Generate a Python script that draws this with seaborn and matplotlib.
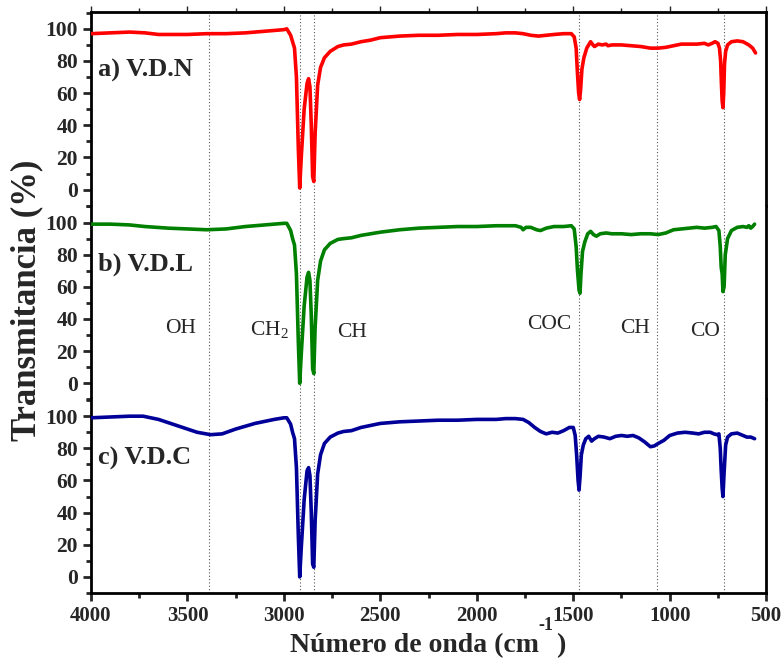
import matplotlib
matplotlib.use("Agg")
import matplotlib.pyplot as plt
from matplotlib.ticker import MultipleLocator
import seaborn as sns
import pandas as pd

# ---------------- data ----------------
vdn_points = [
    (4000, 97), (3900, 97.5), (3800, 98), (3720, 97.5), (3650, 96.5), (3500, 96.5),
    (3400, 97), (3300, 97), (3200, 97.5), (3100, 98.5), (3000, 99.5), (2985, 100),
    (2965, 96), (2955, 92), (2945, 88), (2935, 70), (2925, 25), (2918, 1), (2910, 20),
    (2895, 50), (2880, 66), (2872, 69), (2865, 64), (2858, 40), (2851, 8), (2845, 5),
    (2838, 35), (2825, 65), (2810, 76), (2790, 82), (2760, 86), (2720, 89), (2690, 90),
    (2650, 90.5), (2600, 92), (2550, 93), (2500, 94.5), (2400, 95.5), (2300, 96),
    (2200, 96), (2100, 96.5), (2000, 96.5), (1900, 97), (1850, 97.5), (1800, 97.5),
    (1760, 97), (1720, 96), (1680, 95.5), (1640, 96), (1600, 96.5), (1550, 97),
    (1510, 97), (1495, 95), (1485, 88), (1478, 72), (1472, 60), (1467, 56), (1462, 62),
    (1455, 75), (1445, 82), (1430, 88), (1410, 92), (1398, 90), (1390, 89), (1370, 90.5),
    (1350, 90), (1330, 90.5), (1320, 89.5), (1300, 90), (1250, 90), (1200, 89.5),
    (1150, 89), (1100, 88), (1060, 88), (1020, 88.5), (980, 89.5), (940, 90.5),
    (900, 90.5), (860, 90.5), (820, 91), (800, 90), (780, 91), (765, 92), (750, 91),
    (742, 88), (736, 80), (732, 66), (728, 55), (724, 51), (720, 60), (716, 78),
    (710, 86), (700, 90), (680, 92), (650, 92.5), (620, 92), (590, 90), (570, 88),
    (555, 85),
]
vdl_points = [
    (4000, 99), (3900, 99), (3800, 98.5), (3720, 97.5), (3600, 96.5), (3500, 96),
    (3400, 95.5), (3300, 96), (3200, 97.5), (3100, 98.5), (3000, 99.5), (2985, 99.5),
    (2965, 95), (2955, 90), (2945, 86), (2935, 68), (2925, 25), (2918, 0), (2910, 18),
    (2895, 48), (2880, 66), (2872, 69), (2865, 64), (2858, 42), (2851, 9), (2845, 6),
    (2838, 35), (2825, 64), (2810, 76), (2790, 83), (2760, 87), (2720, 89.5), (2690, 90),
    (2650, 90.5), (2600, 92), (2500, 94), (2400, 95.5), (2300, 96.5), (2200, 97),
    (2100, 97.5), (2000, 97.5), (1900, 98), (1800, 98), (1770, 97), (1760, 95.5),
    (1745, 97), (1720, 97), (1690, 95.5), (1670, 95), (1640, 96.5), (1600, 97.5),
    (1550, 97.5), (1510, 98), (1495, 96), (1485, 85), (1478, 70), (1470, 58), (1465, 56),
    (1460, 68), (1452, 82), (1440, 88), (1425, 93), (1410, 94.5), (1395, 92.5),
    (1380, 91.5), (1360, 93), (1330, 93.5), (1300, 93), (1250, 93), (1200, 92.5),
    (1150, 93), (1100, 93), (1060, 92.5), (1020, 93.5), (980, 95.5), (940, 96),
    (900, 96.5), (860, 97), (820, 96.5), (780, 97), (760, 97.5), (745, 95), (738, 85),
    (733, 72), (728, 68), (724, 57), (718, 60), (712, 80), (700, 90), (680, 95),
    (650, 97), (620, 97.5), (600, 97), (590, 98), (580, 96.5), (570, 97.5), (560, 99),
]
vdc_points = [
    (4000, 99), (3900, 99.5), (3800, 100), (3730, 100), (3650, 98), (3550, 94),
    (3450, 90), (3380, 88.5), (3320, 89), (3250, 92), (3150, 95.5), (3050, 98),
    (3000, 99), (2985, 99), (2965, 95), (2955, 90), (2945, 86), (2935, 68), (2925, 25),
    (2918, 0), (2910, 18), (2895, 48), (2880, 66), (2872, 68), (2865, 63), (2858, 40),
    (2851, 8), (2845, 6), (2838, 35), (2825, 64), (2810, 76), (2790, 83), (2760, 87),
    (2720, 89.5), (2690, 90.5), (2650, 91), (2600, 93), (2500, 95.5), (2400, 96.5),
    (2300, 97), (2200, 97.5), (2100, 97.5), (2000, 98), (1900, 98), (1850, 98.5),
    (1800, 98.5), (1760, 98), (1730, 96), (1700, 93), (1670, 90.5), (1640, 89),
    (1610, 90), (1580, 89.5), (1550, 91), (1520, 93), (1500, 93), (1490, 88),
    (1482, 75), (1475, 60), (1470, 54), (1465, 62), (1458, 76), (1448, 82), (1435, 86),
    (1420, 87.5), (1405, 84.5), (1390, 86), (1370, 87.5), (1340, 87), (1310, 86),
    (1280, 87.5), (1250, 88), (1220, 87.5), (1190, 88), (1160, 86.5), (1130, 84),
    (1100, 81), (1080, 81.5), (1060, 83), (1030, 85), (1000, 88), (960, 89.5),
    (920, 90), (880, 89.5), (850, 89), (820, 90), (790, 90), (770, 89), (755, 88.5),
    (745, 89), (738, 80), (733, 66), (728, 55), (724, 50), (718, 65), (710, 82),
    (700, 87), (680, 89), (650, 89.5), (620, 88), (600, 87), (580, 87), (560, 86),
]

panel_labels = ["a) V.D.N", "b) V.D.L", "c) V.D.C"]
panel_colors = ["#ff0000", "#008000", "#000099"]
band_positions = [3388, 2916, 2844, 1468, 1067, 721]
band_names = ["OH", "CH$_2$", "CH", "COC", "CH", "CO"]
band_label_x = [3536, 3077, 2647, 1625, 1179, 816]
band_label_y = [31.5, 30, 28.5, 33.5, 31.5, 29.5]
x_ticks = [4000, 3500, 3000, 2500, 2000, 1500, 1000, 500]
y_ticks = [0, 20, 40, 60, 80, 100]

# ---------------- style ----------------
sns.set_style("ticks")
plt.rcParams["font.family"] = ["Liberation Serif", "DejaVu Serif"]
plt.rcParams["font.weight"] = "bold"
plt.rcParams["mathtext.default"] = "regular"

fig, axes = plt.subplots(3, 1, sharex=True, figsize=(7.81, 6.58), dpi=100)
fig.subplots_adjust(left=0.1165, right=0.981, top=0.9818, bottom=0.0988, hspace=0)

for i, (ax, pts) in enumerate(zip(axes, [vdn_points, vdl_points, vdc_points])):
    df = pd.DataFrame(pts, columns=["wn", "T"])
    for xv in band_positions:
        ax.axvline(xv, color="#555555", lw=0.8, linestyle=(0, (1, 2)), zorder=1)
    sns.lineplot(data=df, x="wn", y="T", ax=ax, color=panel_colors[i], lw=2.6,
                 sort=False, estimator=None, zorder=3)
    ax.set_xlim(4000, 500)
    ax.set_ylim(-10, 110.5)
    ax.set_yticks(y_ticks)
    ax.yaxis.set_minor_locator(MultipleLocator(10))
    ax.set_xlabel("")
    ax.set_ylabel("")
    for side in ["left", "right", "top", "bottom"]:
        ax.spines[side].set_linewidth(2.0)
        ax.spines[side].set_color("black")
    ax.spines["top"].set_visible(i == 0)
    ax.spines["bottom"].set_visible(i == 2)
    ax.tick_params(axis="y", which="major", direction="out", length=6, width=2,
                   labelsize=15.5, right=False)
    ax.tick_params(axis="y", which="minor", direction="out", length=3.5, width=2,
                   right=False)
    ax.tick_params(axis="x", which="both", bottom=(i == 2), top=(i == 0),
                   labelbottom=(i == 2), labeltop=False, direction="out")
    ax.text(3965, 70, panel_labels[i], fontsize=19, fontweight="bold",
            ha="left", va="baseline", zorder=4)

axes[2].set_xticks(x_ticks)
axes[2].xaxis.set_minor_locator(MultipleLocator(250))
axes[2].tick_params(axis="x", which="major", length=6, width=2, labelsize=15)
axes[2].tick_params(axis="x", which="minor", length=3.5, width=2)
axes[0].tick_params(axis="x", which="major", length=4, width=1)
axes[0].tick_params(axis="x", which="minor", length=3, width=1)
axes[0].xaxis.set_minor_locator(MultipleLocator(250))

for name, xv, yv in zip(band_names, band_label_x, band_label_y):
    axes[1].text(xv, yv, name, fontsize=15.5, fontweight="normal",
                 ha="center", va="baseline", zorder=4)

fig.text(27 / 781, 1 - 300 / 658, "Transmitancia (%)", rotation=90, fontsize=25,
         fontweight="bold", ha="center", va="center")
fig.text(290 / 781, 1 - 652 / 658, "Número de onda (cm", fontsize=20,
         fontweight="bold", ha="left", va="baseline")
fig.text(556 / 781, 1 - 652 / 658, ")", fontsize=20,
         fontweight="bold", ha="left", va="baseline")
fig.text(538 / 781, 1 - 630 / 658, "-1", fontsize=13,
         fontweight="bold", ha="left", va="baseline")

fig.savefig("out.png", dpi=100)
